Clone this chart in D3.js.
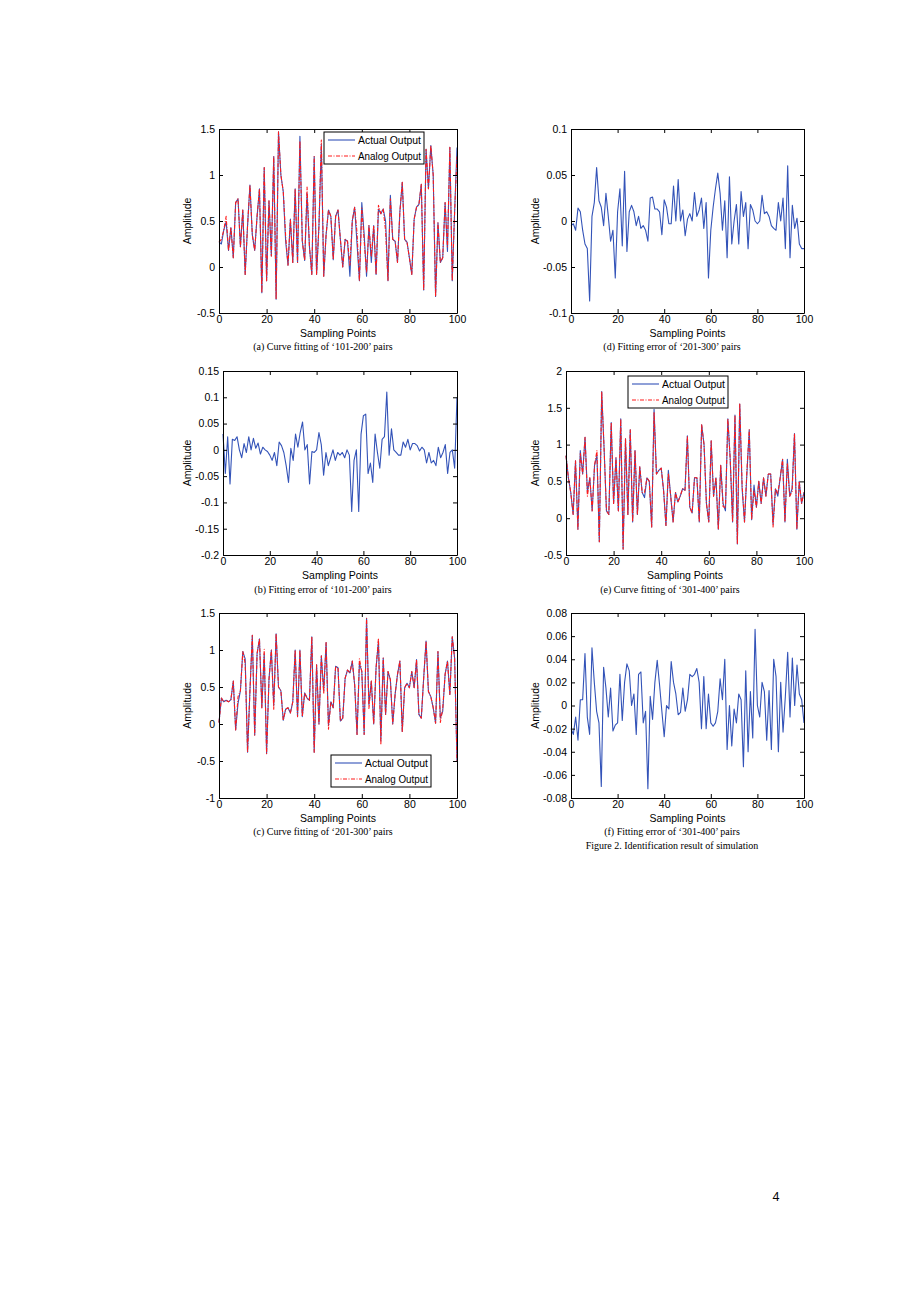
<!DOCTYPE html>
<html><head><meta charset="utf-8">
<script src="https://cdn.jsdelivr.net/npm/d3@7"></script>
<style>body{margin:0;background:#fff}</style>
</head><body>
<svg id="c" width="920" height="1302"></svg>
<script>
const xTicks = [0,20,40,60,80,100];
const yTicksA = [-0.5,0,0.5,1,1.5];
const yTicksB = [-0.2,-0.15,-0.1,-0.05,0,0.05,0.1,0.15];
const yTicksC = [-1,-0.5,0,0.5,1,1.5];
const yTicksD = [-0.1,-0.05,0,0.05,0.1];
const yTicksE = [-0.5,0,0.5,1,1.5,2];
const yTicksF = [-0.08,-0.06,-0.04,-0.02,0,0.02,0.04,0.06,0.08];

const seriesNames = ["Actual Output","Analog Output"];
const xLabel = "Sampling Points";
const yLabel = "Amplitude";
const captions = ["(a) Curve fitting of \u2018101-200\u2019 pairs","(b) Fitting error of \u2018101-200\u2019 pairs","(c) Curve fitting of \u2018201-300\u2019 pairs","(d) Fitting error of \u2018201-300\u2019 pairs","(e) Curve fitting of \u2018301-400\u2019 pairs","(f) Fitting error of \u2018301-400\u2019 pairs"];
const figureTitle = "Figure 2. Identification result of simulation";
const pageNumber = "4";

const actualA = [
0.27,0.25,0.40,0.49,0.18,0.43,0.10,0.70,0.74,0.22,
0.62,-0.08,0.45,0.89,0.35,0.18,0.55,0.85,-0.28,1.08,
-0.15,0.72,0.12,1.20,-0.35,1.47,1.00,0.82,0.28,0.02,
0.52,0.05,0.85,0.05,1.42,0.28,0.07,0.80,0.22,-0.08,
1.20,-0.08,0.45,1.33,-0.10,0.35,0.62,0.55,0.08,0.55,
0.62,0.30,0.00,0.30,0.28,-0.10,0.50,0.65,0.25,-0.15,
0.70,0.35,-0.10,0.45,0.05,0.45,-0.08,0.63,0.58,0.63,
0.50,-0.15,0.78,0.30,0.28,0.05,0.60,0.92,0.30,0.27,
0.10,-0.08,0.52,0.65,0.68,0.90,-0.25,1.28,0.85,1.32,
1.00,-0.32,0.48,0.05,0.10,0.70,0.17,1.30,-0.15,0.60,
1.30];
const analogA = [
0.27,0.30,0.40,0.55,0.18,0.43,0.10,0.70,0.74,0.22,
0.62,-0.08,0.45,0.89,0.35,0.18,0.55,0.85,-0.28,1.08,
-0.15,0.72,0.12,1.20,-0.35,1.47,1.00,0.82,0.34,0.02,
0.52,0.05,0.85,0.05,1.37,0.28,0.07,0.87,0.22,-0.08,
1.20,-0.08,0.45,1.38,-0.10,0.35,0.62,0.55,0.08,0.55,
0.62,0.30,0.00,0.30,0.28,0.02,0.50,0.65,0.37,-0.15,
0.64,0.28,-0.06,0.45,0.11,0.45,-0.08,0.67,0.58,0.63,
0.39,-0.15,0.74,0.30,0.28,0.05,0.60,0.92,0.30,0.27,
0.10,-0.08,0.52,0.65,0.68,0.90,-0.25,1.28,0.85,1.32,
1.00,-0.32,0.48,0.05,0.10,0.70,0.22,1.30,-0.15,0.60,
1.20];
const errorB = [
0.030,-0.045,0.025,-0.065,0.020,0.018,0.025,0.000,-0.015,0.012,
-0.005,0.025,0.000,0.022,0.003,0.013,-0.008,0.005,0.000,-0.003,
-0.010,-0.020,-0.005,-0.030,0.015,0.008,-0.005,-0.030,-0.062,0.003,
-0.020,0.030,0.005,0.033,0.053,0.000,0.010,-0.065,-0.003,-0.005,
0.000,0.033,0.010,-0.048,-0.005,-0.030,-0.015,0.000,-0.020,-0.005,
-0.010,-0.005,-0.015,0.000,-0.010,-0.117,-0.020,0.000,-0.117,0.030,
0.065,0.068,-0.045,-0.025,-0.062,0.030,-0.005,-0.035,0.020,0.025,
0.110,-0.010,0.040,0.000,-0.005,-0.010,-0.010,0.015,0.005,0.020,
0.000,0.012,0.012,0.008,-0.002,0.005,0.000,-0.025,-0.005,-0.025,
-0.020,-0.030,0.005,-0.015,-0.005,0.010,-0.045,-0.005,0.000,-0.035,
0.100];
const actualC = [
0.02,0.35,0.30,0.32,0.30,0.33,0.58,-0.08,0.28,0.45,
0.98,0.88,-0.38,0.45,1.20,-0.15,0.95,1.15,0.22,0.95,
-0.40,0.60,1.00,0.25,1.22,0.50,0.45,0.05,0.20,0.22,
0.15,0.30,1.00,0.10,1.00,0.10,0.42,0.35,0.32,1.18,
-0.38,0.80,0.00,0.92,0.45,1.10,-0.02,0.30,0.22,0.78,
0.76,0.04,0.08,0.62,0.73,0.69,0.85,0.53,-0.14,0.82,
0.71,-0.14,1.43,0.26,0.58,0.00,0.76,1.12,-0.23,0.89,
0.13,0.71,0.60,0.00,0.40,0.67,0.85,-0.10,0.49,0.55,
0.49,0.71,0.49,0.87,0.13,0.08,0.62,1.12,0.44,0.37,
0.22,0.01,0.98,0.08,0.17,0.67,0.85,0.40,1.18,0.89,
-0.50];
const analogC = [
0.02,0.35,0.30,0.32,0.30,0.33,0.58,-0.08,0.37,0.45,
0.98,0.82,-0.38,0.45,1.20,-0.15,0.95,1.15,0.22,1.01,
-0.40,0.60,1.00,0.20,1.22,0.50,0.45,0.05,0.20,0.22,
0.15,0.30,1.00,0.10,1.00,0.10,0.42,0.35,0.32,1.18,
-0.38,0.80,0.00,0.92,0.41,1.10,-0.07,0.30,0.22,0.78,
0.76,0.04,0.08,0.62,0.73,0.69,0.85,0.53,-0.14,0.88,
0.71,-0.14,1.43,0.21,0.58,0.00,0.76,1.16,-0.28,0.89,
0.13,0.71,0.60,0.00,0.40,0.67,0.85,-0.10,0.49,0.55,
0.49,0.71,0.49,0.87,0.13,0.08,0.62,1.12,0.44,0.37,
0.22,0.01,0.98,0.02,0.21,0.67,0.85,0.40,1.18,0.89,
-0.50];
const errorD = [
-0.005,-0.003,-0.010,0.014,0.010,-0.010,-0.025,-0.030,-0.087,0.005,
0.020,0.058,0.022,0.015,-0.005,0.030,0.005,-0.022,-0.010,-0.062,
0.010,0.035,-0.027,0.054,-0.033,0.010,0.017,0.010,-0.005,0.005,
-0.008,-0.005,-0.010,-0.022,0.025,0.026,0.013,0.013,0.010,-0.015,
0.023,0.015,-0.003,-0.003,0.038,0.000,0.045,0.000,0.012,-0.016,
0.002,0.008,0.000,0.031,0.005,0.012,0.025,-0.008,0.020,-0.062,
-0.010,0.015,0.035,0.052,0.030,-0.010,0.022,-0.040,0.048,-0.025,
0.000,0.018,-0.025,0.032,0.005,0.020,-0.030,0.018,0.012,0.000,
-0.003,0.000,0.028,0.008,0.010,0.005,-0.005,-0.008,-0.010,0.020,
0.000,0.025,-0.030,0.060,-0.040,0.017,-0.008,0.003,-0.025,-0.030,
-0.030];
const actualE = [
0.85,0.55,0.35,0.05,0.78,-0.15,0.92,0.60,1.10,0.35,
0.55,0.10,0.72,0.85,-0.32,1.72,0.95,0.10,0.05,1.30,
0.20,0.82,0.10,1.35,-0.42,1.08,0.05,1.20,-0.05,0.92,
0.05,0.70,0.35,0.28,0.55,0.50,-0.12,1.48,0.60,0.65,
0.68,0.38,-0.10,0.65,0.30,-0.05,0.35,0.22,0.30,0.40,
0.38,1.12,0.15,0.07,0.55,0.55,-0.05,1.27,1.00,0.20,
-0.05,1.05,0.30,0.55,-0.15,0.72,0.20,0.10,1.35,0.80,
-0.05,1.40,-0.35,1.55,0.40,-0.05,0.60,1.20,-0.02,0.45,
0.15,0.50,0.20,0.55,0.30,0.60,0.60,-0.08,0.40,0.30,
0.55,0.80,-0.05,0.80,0.30,0.40,1.15,-0.15,0.50,0.20,
0.35];
const analogE = [
0.85,0.55,0.35,0.05,0.78,-0.15,0.88,0.60,1.10,0.30,
0.55,0.10,0.72,0.92,-0.32,1.72,0.95,0.10,0.05,1.30,
0.20,0.82,0.10,1.35,-0.42,1.08,0.05,1.20,-0.05,0.92,
0.05,0.70,0.35,0.35,0.55,0.50,-0.12,1.44,0.60,0.65,
0.68,0.38,-0.10,0.61,0.30,-0.05,0.35,0.22,0.30,0.40,
0.38,1.12,0.15,0.07,0.55,0.55,-0.05,1.27,1.00,0.20,
-0.05,1.05,0.30,0.55,-0.15,0.72,0.16,0.14,1.35,0.80,
-0.05,1.40,-0.35,1.55,0.45,-0.05,0.64,1.20,-0.02,0.38,
0.15,0.50,0.20,0.55,0.30,0.60,0.60,-0.12,0.40,0.34,
0.55,0.80,-0.05,0.75,0.30,0.36,1.15,-0.15,0.50,0.20,
0.35];
const errorF = [
-0.020,-0.025,-0.010,-0.030,0.005,0.005,0.045,-0.010,-0.025,0.050,
0.020,-0.005,-0.015,-0.070,0.033,0.015,-0.010,0.015,-0.022,-0.017,
-0.015,0.027,-0.013,0.020,0.036,0.030,0.000,0.010,-0.025,0.027,
0.029,-0.015,-0.005,-0.072,0.008,-0.012,0.020,0.039,0.018,-0.005,
-0.027,0.000,-0.003,0.038,0.020,0.010,-0.008,-0.006,0.015,-0.005,
0.005,0.027,0.025,0.027,0.032,0.020,-0.020,0.025,-0.020,0.010,
-0.015,-0.018,-0.015,-0.005,0.023,0.005,0.040,-0.038,0.000,-0.035,
-0.003,-0.015,0.010,0.005,-0.053,0.030,-0.040,0.012,-0.028,0.066,
0.000,-0.010,0.020,0.012,-0.030,0.013,-0.038,0.040,0.025,-0.040,
0.020,-0.023,0.008,0.046,-0.010,0.041,0.000,0.035,0.010,0.005,
-0.015];

const BLUE = "#3353b8", RED = "#ff1a1a";
const SANS = "'Liberation Sans', Arial, sans-serif";
const SERIF = "'Liberation Serif', 'Times New Roman', serif";
const FS = 10.5;

const svg = d3.select("#c");
svg.append("rect").attr("width",920).attr("height",1302).attr("fill","#fff");

const panels = [
  {x0:219,x1:457,y0:129,y1:313,dom:[-0.5,1.5],ticks:yTicksA,series:[actualA,analogA],legend:[324,132],ylx:188,cap:0,capX:323,capY:347},
  {x0:223,x1:457,y0:371,y1:555,dom:[-0.2,0.15],ticks:yTicksB,series:[errorB],ylx:188,cap:1,capX:323,capY:590},
  {x0:219,x1:457,y0:613,y1:798,dom:[-1,1.5],ticks:yTicksC,series:[actualC,analogC],legend:[331,755],ylx:188,cap:2,capX:323,capY:832},
  {x0:571,x1:804,y0:129,y1:313,dom:[-0.1,0.1],ticks:yTicksD,series:[errorD],ylx:536,cap:3,capX:672,capY:347},
  {x0:566,x1:804,y0:371,y1:555,dom:[-0.5,2],ticks:yTicksE,series:[actualE,analogE],legend:[628,376],ylx:536,cap:4,capX:670,capY:590},
  {x0:571,x1:804,y0:613,y1:798,dom:[-0.08,0.08],ticks:yTicksF,series:[errorF],ylx:536,cap:5,capX:672,capY:832}
];

const fmt = d => String(+d.toFixed(4));

panels.forEach(p => {
  const x = d3.scaleLinear().domain([0,100]).range([p.x0,p.x1]);
  const y = d3.scaleLinear().domain(p.dom).range([p.y1,p.y0]);
  const g = svg.append("g");

  const styleAxis = sel => {
    sel.selectAll("path").attr("stroke","#000").attr("stroke-width",1);
    sel.selectAll("line").attr("stroke","#000");
    sel.selectAll("text").attr("font-family",SANS).attr("font-size",FS).attr("fill","#000");
  };

  const line = d3.line().x((d,i)=>x(i)).y(d=>y(d));
  p.series.forEach((s,k) => {
    g.append("path").datum(s).attr("d",line).attr("fill","none")
      .attr("stroke", k===0 ? BLUE : RED).attr("stroke-width",1.1)
      .attr("stroke-linejoin","round")
      .attr("stroke-dasharray", k===0 ? null : "4,1.5,1,1.5");
  });

  g.append("g").attr("transform",`translate(0,${p.y1})`)
    .call(d3.axisBottom(x).tickValues(xTicks).tickSize(-4).tickSizeOuter(0).tickPadding(3).tickFormat(fmt)).call(styleAxis);
  g.append("g").attr("transform",`translate(0,${p.y0})`)
    .call(d3.axisTop(x).tickValues(xTicks).tickSize(-4).tickSizeOuter(0).tickFormat("")).call(styleAxis);
  g.append("g").attr("transform",`translate(${p.x0},0)`)
    .call(d3.axisLeft(y).tickValues(p.ticks).tickSize(-4).tickSizeOuter(0).tickPadding(4).tickFormat(fmt)).call(styleAxis);
  g.append("g").attr("transform",`translate(${p.x1},0)`)
    .call(d3.axisRight(y).tickValues(p.ticks).tickSize(-4).tickSizeOuter(0).tickFormat("")).call(styleAxis);

  g.append("text").attr("x",(p.x0+p.x1)/2).attr("y",p.y1+24).attr("text-anchor","middle")
    .attr("font-family",SANS).attr("font-size",FS).text(xLabel);
  g.append("text").attr("transform",`translate(${p.ylx},${(p.y0+p.y1)/2}) rotate(-90)`)
    .attr("text-anchor","middle").attr("dominant-baseline","middle")
    .attr("font-family",SANS).attr("font-size",FS).text(yLabel);

  g.append("text").attr("x",p.capX).attr("y",p.capY+3).attr("text-anchor","middle")
    .attr("font-family",SERIF).attr("font-size",10).text(captions[p.cap]);

  if (p.legend) {
    const [lx,ly] = p.legend;
    const lg = g.append("g");
    lg.append("rect").attr("x",lx).attr("y",ly).attr("width",100).attr("height",32)
      .attr("fill","#fff").attr("stroke","#000").attr("stroke-width",1);
    seriesNames.forEach((n,k) => {
      const yy = ly + 8 + k*16;
      lg.append("line").attr("x1",lx+4).attr("x2",lx+31).attr("y1",yy).attr("y2",yy)
        .attr("stroke", k===0 ? BLUE : RED).attr("stroke-width",1.1)
        .attr("stroke-dasharray", k===0 ? null : "4,1.5,1,1.5");
      lg.append("text").attr("x",lx+34).attr("y",yy+4).attr("font-family",SANS).attr("font-size",10)
        .attr("textLength",63).attr("lengthAdjust","spacingAndGlyphs").text(n);
    });
  }
});

svg.append("text").attr("x",672).attr("y",849).attr("text-anchor","middle")
  .attr("font-family",SERIF).attr("font-size",10).text(figureTitle);
svg.append("text").attr("x",776).attr("y",1201).attr("text-anchor","middle")
  .attr("font-family","'Noto Sans', 'Open Sans', sans-serif").attr("font-size",12).text(pageNumber);
</script>
</body></html>
